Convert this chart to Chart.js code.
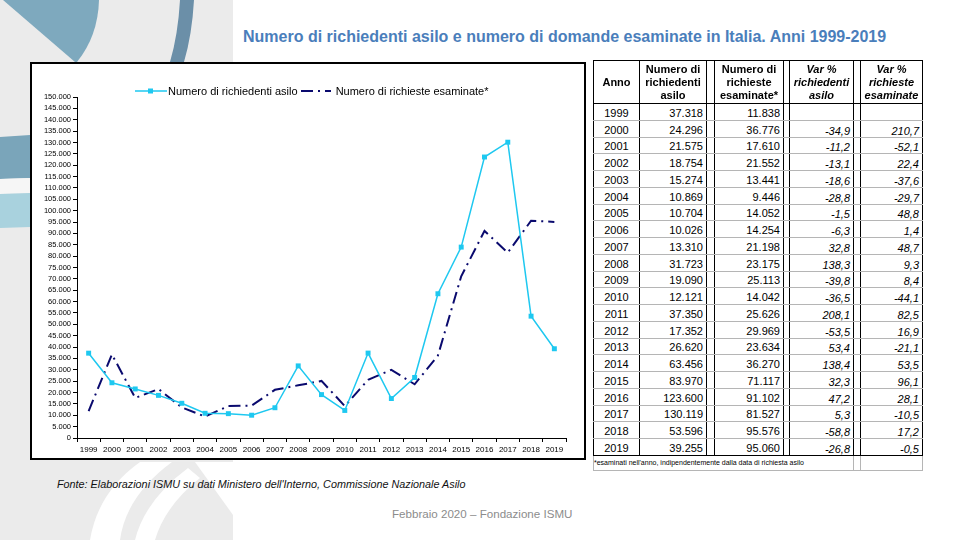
<!DOCTYPE html>
<html lang="it">
<head>
<meta charset="utf-8">
<script src="https://cdn.jsdelivr.net/npm/chart.js@4/dist/chart.umd.min.js"></script>
<style>
  html, body { margin: 0; padding: 0; }
  body { width: 960px; height: 540px; position: relative; overflow: hidden; background: #fff; font-family: 'Liberation Sans', Arial, sans-serif; }
  #deco { position: absolute; left: 0; top: 0; }
  #title { position: absolute; left: 243px; top: 28px; font-weight: bold; font-size: 16px; color: #4a7ebb; white-space: nowrap; }
  #box { position: absolute; left: 30px; top: 62px; width: 552px; height: 394px; border: 2px solid #000; background: #fff; }
  #box canvas { position: absolute; left: 0; top: 0; }
  #legend { position: absolute; left: 103px; top: 21px; font-size: 11px; color: #000; display: flex; align-items: center; white-space: nowrap; }
  #legend svg { display: block; }
  #source { position: absolute; left: 57px; top: 478px; font-style: italic; font-size: 10.8px; color: #111; white-space: nowrap; }
  #footer { position: absolute; left: 392px; top: 507px; font-size: 11.6px; color: #8c8c8c; white-space: nowrap; }
  table { position: absolute; left: 593px; top: 60px; border-collapse: collapse; table-layout: fixed; width: 329px; font-size: 11px; color: #000; }
  td, th { padding: 0; border-left: 1px solid #000; border-right: 1px solid #000; border-top: 1px solid #b5b5b5; border-bottom: 1px solid #b5b5b5; overflow: hidden; white-space: nowrap; }
  th { font-weight: bold; height: 42px; line-height: 13px; border-top: 1px solid #000; border-bottom: 1px solid #000; white-space: normal; }
  th.var { font-style: italic; }
  td { height: 15.75px; line-height: 14px; vertical-align: bottom; }
  td.yr { text-align: center; }
  td.num { text-align: right; padding-right: 3px; }
  td.var { text-align: right; padding-right: 3px; font-style: italic; line-height: 12px; }
  tr.last td { border-bottom: 1px solid #000; }
  tr.note td { border-color: #b5b5b5; height: 14px; font-size: 7px; line-height: 10px; vertical-align: middle; }
</style>
</head>
<body>
<svg id="deco" width="233" height="540" viewBox="0 0 233 540">
  <rect x="0" y="0" width="233" height="540" fill="#ebebeb"/>
  <path d="M3 0 L99 0 Q98 36 77 62 L75 62 Z" fill="#7ea9be"/>
  <path d="M180 0 L194 0 Q192 35 184 62 L170 62 Q178 35 180 0 Z" fill="#6b8fa8"/>
  <path d="M0 137 Q15 136 30 135 L30 178 L0 179 Z" fill="#7aa5ba"/>
  <path d="M0 179 L30 178 L30 193 L0 194 Z" fill="#f6f6f6"/>
  <path d="M0 194 L30 193 L30 227 L0 228 Z" fill="#a9d2de"/>
  <path d="M90 540 Q98 492 140 462 L172 462 Q126 496 120 540 Z" fill="#ffffff"/>
  <path d="M135 540 Q145 500 188 468 L200 478 Q165 506 155 540 Z" fill="#ffffff"/>
  <path d="M195 462 L233 462 L233 515 Z" fill="#ffffff"/>
</svg>

<div id="title">Numero di richiedenti asilo e numero di domande esaminate in Italia. Anni 1999-2019</div>

<div id="box">
  <canvas id="myChart" width="552" height="394"></canvas>
  <div id="legend">
    <svg width="32" height="10"><line x1="0" y1="5" x2="32" y2="5" stroke="#1ec8f0" stroke-width="1.5"/><rect x="13" y="2.5" width="5" height="5" fill="#1ec8f0"/></svg>
    <span style="margin-left:1px">Numero di richiedenti asilo</span>
    <svg width="34" height="10" style="margin-left:3px"><line x1="0" y1="5" x2="34" y2="5" stroke="#0a0a6e" stroke-width="1.8" stroke-dasharray="12 5 2 5 6 4"/></svg>
    <span style="margin-left:1px">Numero di richieste esaminate*</span>
  </div>
</div>

<table id="tab">
  <colgroup>
    <col style="width:46px"><col style="width:67px"><col style="width:8px"><col style="width:69px"><col style="width:6px"><col style="width:64px"><col style="width:7px"><col style="width:62px">
  </colgroup>
  <thead>
    <tr>
      <th>Anno</th>
      <th>Numero di richiedenti asilo</th>
      <th></th>
      <th>Numero di richieste esaminate*</th>
      <th></th>
      <th class="var">Var % richiedenti asilo</th>
      <th></th>
      <th class="var">Var % richieste esaminate</th>
    </tr>
  </thead>
  <tbody id="tbody"></tbody>
</table>

<div id="source">Fonte: Elaborazioni ISMU su dati Ministero dell'Interno, Commissione Nazionale Asilo</div>
<div id="footer">Febbraio 2020 – Fondazione ISMU</div>

<script>
const anni = ['1999', '2000', '2001', '2002', '2003', '2004', '2005', '2006', '2007', '2008', '2009',
    '2010', '2011', '2012', '2013', '2014', '2015', '2016', '2017', '2018', '2019'];

const richiedenti = [37318, 24296, 21575, 18754, 15274, 10869, 10704, 10026, 13310, 31723, 19090,
    12121, 37350, 17352, 26620, 63456, 83970, 123600, 130119, 53596, 39255];

const esaminate = [11838, 36776, 17610, 21552, 13441, 9446, 14052, 14254, 21198, 23175, 25113,
    14042, 25626, 29969, 23634, 36270, 71117, 91102, 81527, 95576, 95060];

const varRichiedenti = [null, -34.9, -11.2, -13.1, -18.6, -28.8, -1.5, -6.3, 32.8, 138.3, -39.8,
    -36.5, 208.1, -53.5, 53.4, 138.4, 32.3, 47.2, 5.3, -58.8, -26.8];

const varEsaminate = [null, 210.7, -52.1, 22.4, -37.6, -29.7, 48.8, 1.4, 48.7, 9.3, 8.4,
    -44.1, 82.5, 16.9, -21.1, 53.5, 96.1, 28.1, -10.5, 17.2, -0.5];

const nota = '*esaminati nell\'anno, indipendentemente dalla data di richiesta asilo';

// 150000 -> "150.000"
function fmtNum(v) {
    return String(Math.round(v)).replace(/\B(?=(\d{3})+(?!\d))/g, '.');
}

function fmtPct(v) {
    return v === null ? '' : v.toFixed(1).replace('.', ',');
}

// table
const tbody = document.getElementById('tbody');
anni.forEach((anno, i) => {
    const tr = document.createElement('tr');
    if (i === anni.length - 1) tr.className = 'last';
    tr.innerHTML =
        `<td class="yr">${anno}</td>` +
        `<td class="num">${fmtNum(richiedenti[i])}</td><td></td>` +
        `<td class="num">${fmtNum(esaminate[i])}</td><td></td>` +
        `<td class="var">${fmtPct(varRichiedenti[i])}</td><td></td>` +
        `<td class="var">${fmtPct(varEsaminate[i])}</td>`;
    tbody.appendChild(tr);
});
const noteRow = document.createElement('tr');
noteRow.className = 'note';
noteRow.innerHTML = `<td colspan="6">${nota}</td><td></td><td></td>`;
tbody.appendChild(noteRow);

// chart
const axisFont = "'Liberation Sans Narrow', 'Liberation Sans', Arial, sans-serif";
const canvas = /** @type {HTMLCanvasElement} */ (document.getElementById('myChart'));

new Chart(canvas.getContext('2d'), {
    type: 'line',
    data: {
        labels: anni,
        datasets: [
            {
                label: 'Numero di richiedenti asilo',
                data: richiedenti,
                borderColor: '#1ec8f0',
                backgroundColor: '#1ec8f0',
                borderWidth: 1.5,
                pointStyle: 'rect',
                pointRadius: 3.5,
                pointBorderWidth: 0,
                tension: 0
            },
            {
                label: 'Numero di richieste esaminate*',
                data: esaminate,
                borderColor: '#0a0a6e',
                borderWidth: 2,
                borderDash: [12, 5, 2, 5],
                pointRadius: 0,
                tension: 0
            }
        ]
    },
    options: {
        responsive: false,
        animation: false,
        layout: { padding: { top: 33, right: 18, left: 0, bottom: 0 } },
        plugins: {
            legend: { display: false },
            tooltip: { enabled: false }
        },
        scales: {
            x: {
                offset: true,
                afterFit: s => { s.height = 20; },
                grid: { offset: true, drawOnChartArea: false, drawTicks: true, tickLength: 4, color: '#000' },
                border: { display: true, color: '#000', width: 1 },
                ticks: {
                    autoSkip: false,
                    maxRotation: 0,
                    padding: 3,
                    color: '#000',
                    font: { family: axisFont, size: 8 }
                }
            },
            y: {
                min: 0,
                max: 150000,
                afterFit: s => { s.width = 45; },
                grid: { drawOnChartArea: false, drawTicks: true, tickLength: 4, color: '#000' },
                border: { display: true, color: '#000', width: 1 },
                ticks: {
                    stepSize: 5000,
                    autoSkip: false,
                    padding: 2,
                    color: '#000',
                    font: { family: axisFont, size: 7.5 },
                    callback: v => fmtNum(v)
                }
            }
        }
    }
});
</script>
</body>
</html>
